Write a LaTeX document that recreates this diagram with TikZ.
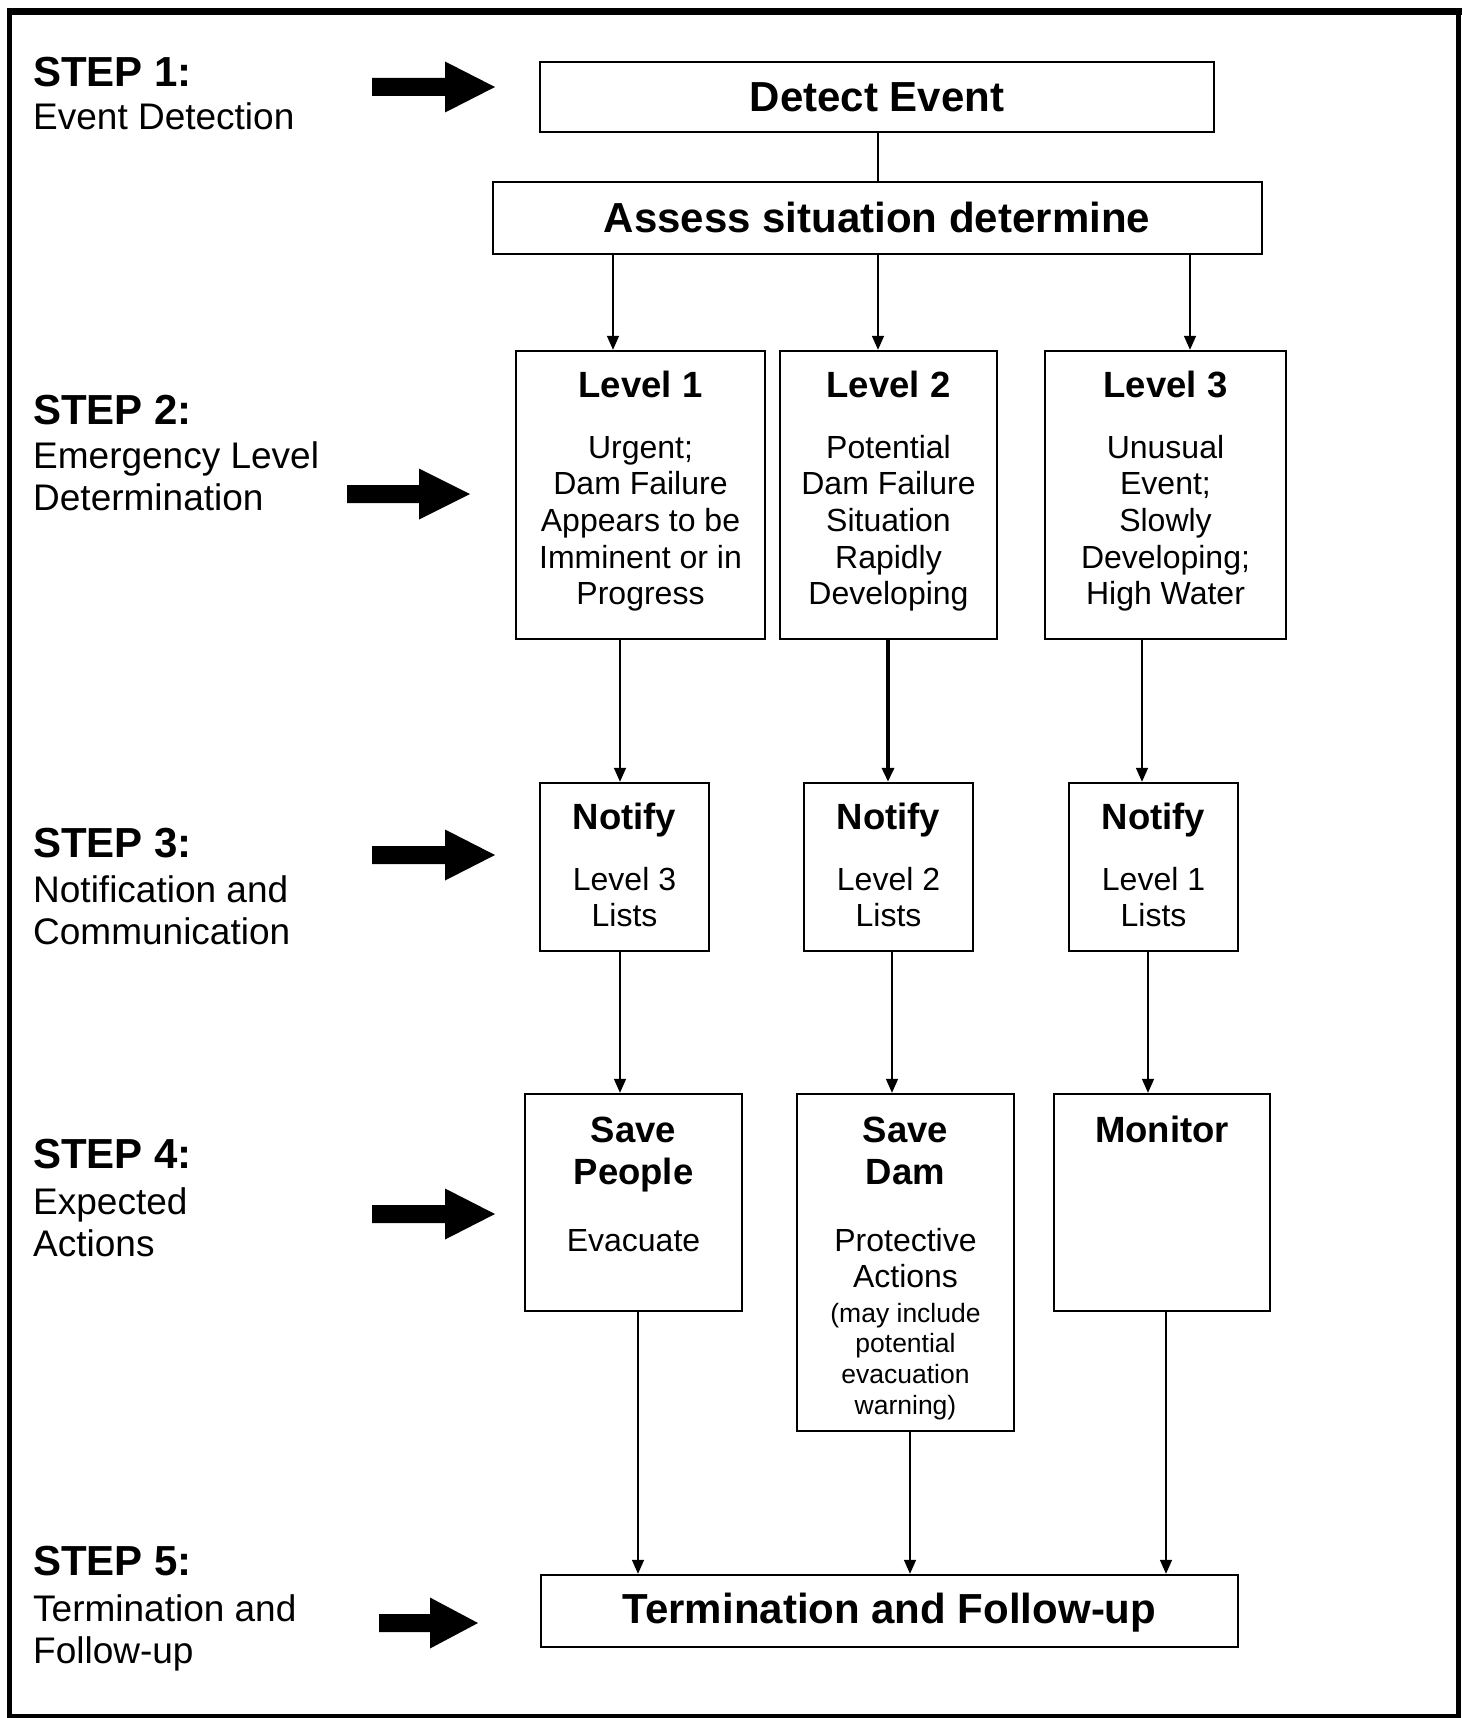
\documentclass[tikz,border=0pt]{standalone}
\usepackage{fontspec}
\setmainfont{Liberation Sans}
\usetikzlibrary{arrows.meta}
\newcommand\blockarrow[4]{%
  \fill (#1,#4-9) -- (#2,#4-9) -- (#2,#4-25.5) -- (#3,#4) -- (#2,#4+25.5) -- (#2,#4+9) -- (#1,#4+9) -- cycle;}
\begin{document}
\begin{tikzpicture}[x=1pt,y=-1pt,
  box/.style={draw,line width=2.4pt,inner sep=0pt},
  conn/.style={line width=1.6pt,-{Triangle[length=14pt,width=12pt]}},
  big/.style={font=\bfseries\fontsize{42}{48}\selectfont,inner sep=0pt,anchor=base},
  ttl/.style={font=\bfseries\fontsize{36.5}{42.5}\selectfont,inner sep=0pt,anchor=base,align=center},
  body/.style={font=\fontsize{32}{36.7}\selectfont,inner sep=0pt,anchor=base,align=center},
  small/.style={font=\fontsize{26.5}{30.7}\selectfont,inner sep=0pt,anchor=base,align=center},
  steph/.style={font=\bfseries\fontsize{42}{48}\selectfont,inner sep=0pt,anchor=base west},
  stepd/.style={font=\fontsize{37}{42.5}\selectfont,inner sep=0pt,anchor=base west,align=left}]
\useasboundingbox (0,0) rectangle (1463,1718);
% outer frame
\draw[line width=5pt] (9.5,11.5) rectangle (1458.5,1716);
\draw[line width=7pt] (7,11.5) -- (1462,11.5);

% boxes
\node[box,minimum width=674pt,minimum height=70pt] (det) at (877,97) {};
\node[box,minimum width=769pt,minimum height=72pt] (ass) at (877.5,218) {};
\node[box,minimum width=249pt,minimum height=288pt] (l1) at (640.5,495) {};
\node[box,minimum width=217pt,minimum height=288pt] (l2) at (888.5,495) {};
\node[box,minimum width=241pt,minimum height=288pt] (l3) at (1165.5,495) {};
\node[box,minimum width=169pt,minimum height=168pt] (n1) at (624.5,867) {};
\node[box,minimum width=169pt,minimum height=168pt] (n2) at (888.5,867) {};
\node[box,minimum width=169pt,minimum height=168pt] (n3) at (1153.5,867) {};
\node[box,minimum width=217pt,minimum height=217pt] (sp) at (633.5,1202.5) {};
\node[box,minimum width=217pt,minimum height=337pt] (sd) at (905.5,1262.5) {};
\node[box,minimum width=216pt,minimum height=217pt] (mon) at (1162,1202.5) {};
\node[box,minimum width=697pt,minimum height=72pt] (term) at (889.5,1611) {};

% box texts (multi-line nodes are placed by the baseline of their last line)
\node[big] (tdet) at (877,112) {Detect Event};
\node[big] (tass) at (877,232) {Assess situation determine};
\node[ttl] (tl1) at (640.5,397) {Level 1};
\node[ttl] (tl2) at (888.5,397) {Level 2};
\node[ttl] (tl3) at (1165.5,397) {Level 3};
\node[body] (bl1) at (640.5,604.8) {Urgent;\\Dam Failure\\Appears to be\\Imminent or in\\Progress};
\node[body] (bl2) at (888.5,604.8) {Potential\\Dam Failure\\Situation\\Rapidly\\Developing};
\node[body] (bl3) at (1165.5,604.8) {Unusual\\Event;\\Slowly\\Developing;\\High Water};
\node[ttl] (tn1) at (624.5,829) {Notify};
\node[ttl] (tn2) at (888.5,829) {Notify};
\node[ttl] (tn3) at (1153.5,829) {Notify};
\node[body] (bn1) at (624.5,926.7) {Level 3\\Lists};
\node[body] (bn2) at (888.5,926.7) {Level 2\\Lists};
\node[body] (bn3) at (1153.5,926.7) {Level 1\\Lists};
\node[ttl] (tsp) at (633.5,1184.5) {Save\\People};
\node[body] (bsp) at (633.5,1251) {Evacuate};
\node[ttl] (tsd) at (905.5,1184.5) {Save\\Dam};
\node[body] (bsd) at (905.5,1287.7) {Protective\\Actions};
\node[small] (ssd) at (905.5,1414.1) {(may include\\potential\\evacuation\\warning)};
\node[ttl] (tmon) at (1162,1142) {Monitor};
\node[big] (tterm) at (889.5,1623) {Termination and Follow-up};

% step labels
\node[steph] (s1) at (33,87) {STEP 1:};
\node[stepd] (d1) at (33,130) {Event Detection};
\node[steph] (s2) at (33,424) {STEP 2:};
\node[stepd] (d2) at (33,510.5) {Emergency Level\\Determination};
\node[steph] (s3) at (33,857) {STEP 3:};
\node[stepd] (d3) at (33,944.5) {Notification and\\Communication};
\node[steph] (s4) at (33,1168) {STEP 4:};
\node[stepd] (d4) at (33,1256.5) {Expected\\Actions};
\node[steph] (s5) at (33,1575) {STEP 5:};
\node[stepd] (d5) at (33,1663.5) {Termination and\\Follow-up};

% block arrows
\blockarrow{372}{445}{495}{87}
\blockarrow{347}{419}{470}{494}
\blockarrow{372}{445}{495}{855}
\blockarrow{372}{445}{495}{1214}
\blockarrow{379}{430}{478}{1623}

% connector columns
\coordinate (c0) at (878,0);
\coordinate (a1) at (613,0);
\coordinate (a2) at (878,0);
\coordinate (a3) at (1190,0);
\coordinate (b1) at (620,0);
\coordinate (b2) at (888,0);
\coordinate (b3) at (1142,0);
\coordinate (e1) at (620,0);
\coordinate (e2) at (892,0);
\coordinate (e3) at (1148,0);
\coordinate (f1) at (638,0);
\coordinate (f2) at (910,0);
\coordinate (f3) at (1166,0);

\draw[line width=1.6pt] (det.south -| c0) -- (ass.north -| c0);
\draw[conn] (ass.south -| a1) -- (l1.north -| a1);
\draw[conn] (ass.south -| a2) -- (l2.north -| a2);
\draw[conn] (ass.south -| a3) -- (l3.north -| a3);
\draw[conn] (l1.south -| b1) -- (n1.north -| b1);
\draw[conn,line width=3.4pt] (l2.south -| b2) -- (n2.north -| b2);
\draw[conn] (l3.south -| b3) -- (n3.north -| b3);
\draw[conn] (n1.south -| e1) -- (sp.north -| e1);
\draw[conn] (n2.south -| e2) -- (sd.north -| e2);
\draw[conn] (n3.south -| e3) -- (mon.north -| e3);
\draw[conn] (sp.south -| f1) -- (term.north -| f1);
\draw[conn] (sd.south -| f2) -- (term.north -| f2);
\draw[conn] (mon.south -| f3) -- (term.north -| f3);
\end{tikzpicture}
\end{document}
